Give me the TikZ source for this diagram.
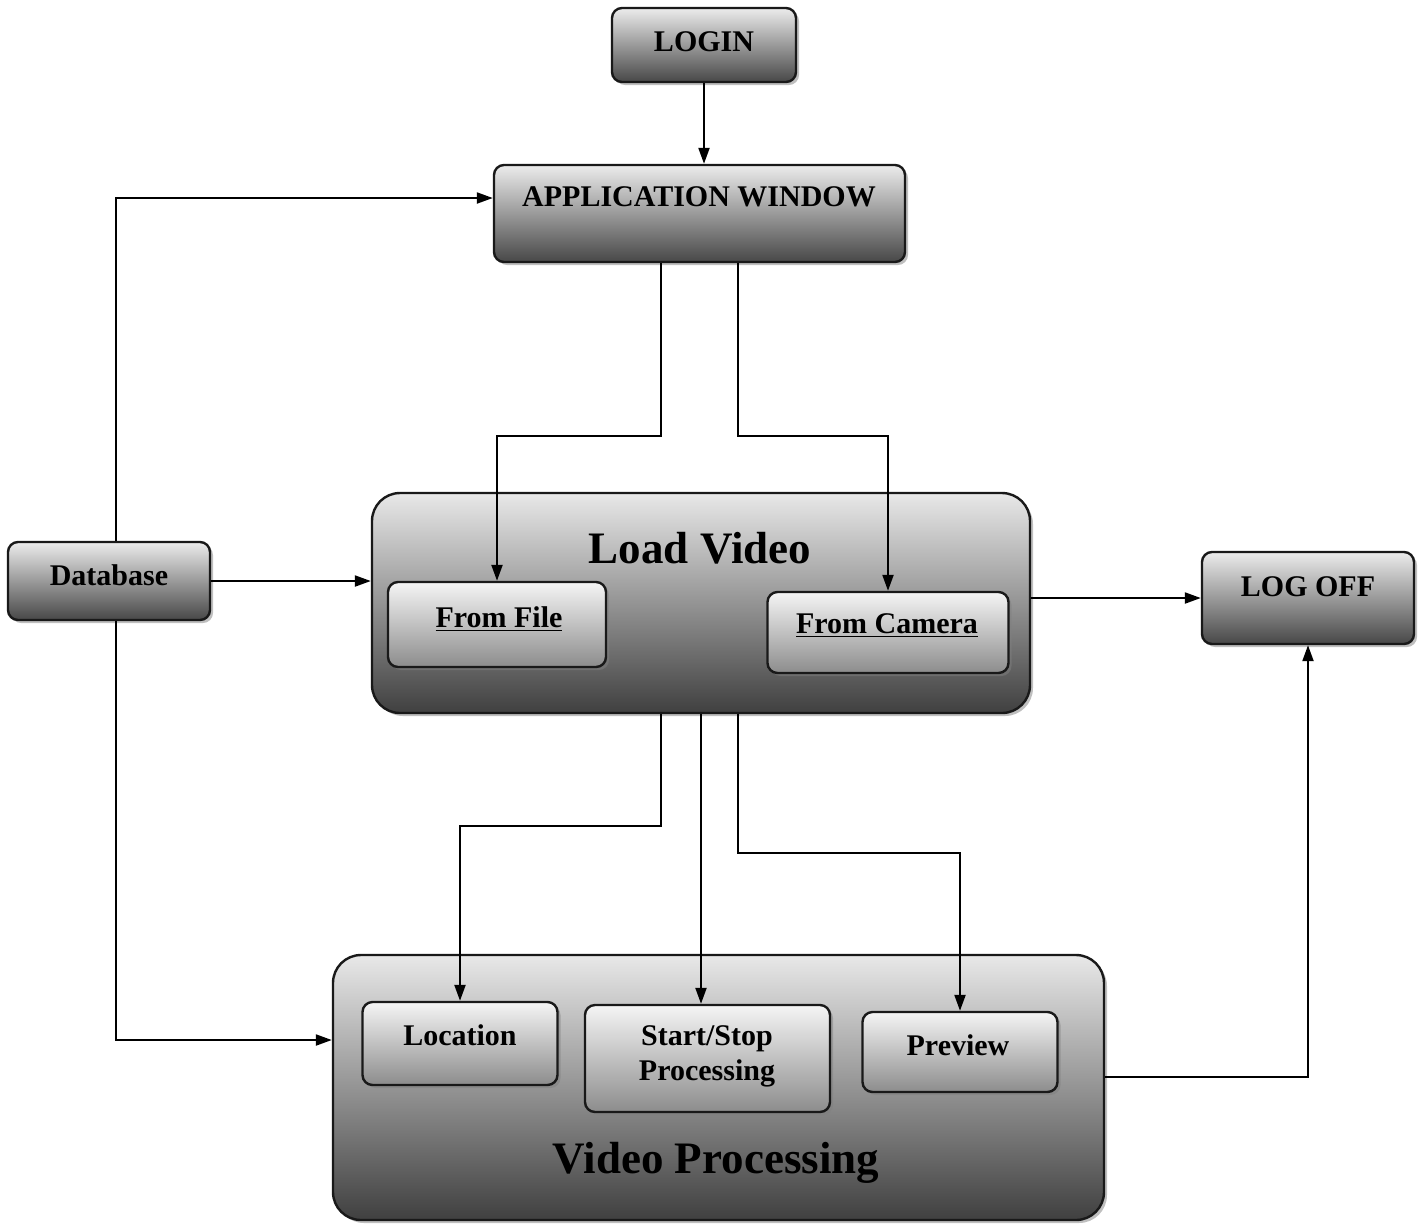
\documentclass[tikz,border=0pt]{standalone}
\usepackage{fontspec}
\setmainfont{Liberation Serif}
\usetikzlibrary{shadows,arrows.meta,calc}
\begin{document}
\begin{tikzpicture}[x=0.5pt,y=-0.5pt,
  box/.style={draw=black!90, line width=1.2pt, rounded corners=5pt, inner sep=0pt,
    top color=gray!15, middle color=gray!45, bottom color=black!72,
    drop shadow={shadow xshift=1.5pt,shadow yshift=-1.5pt,opacity=0.5}},
  inbox/.style={box, top color=gray!8, middle color=gray!30, bottom color=black!45},
  bigbox/.style={box, rounded corners=14pt, top color=gray!18, middle color=gray!55, bottom color=black!75},
  lbl/.style={font=\fontsize{15}{17.5}\selectfont\bfseries, inner sep=0pt, align=center},
  title/.style={font=\fontsize{22.5}{26}\selectfont\bfseries, inner sep=0pt},
  arr/.style={-{Triangle[length=8pt,width=5.5pt]}, line width=1.1pt}]
\useasboundingbox (0,0) rectangle (1420,1223);
\fill[white] (0,0) rectangle (1420,1223);

% containers
\node[bigbox, minimum width=329pt, minimum height=110pt] (lv) at (701,603) {};
\node[bigbox, minimum width=385.5pt, minimum height=132.5pt] (vp) at (718.5,1087.5) {};

% boxes
\node[box, minimum width=92pt, minimum height=37pt] (login) at (704,45) {};
\node[box, minimum width=205.5pt, minimum height=48.5pt] (app) at (699.5,213.5) {};
\node[box, minimum width=101pt, minimum height=39pt] (db) at (109,581) {};
\node[box, minimum width=106pt, minimum height=46pt] (lo) at (1308,598) {};
\node[inbox, minimum width=109pt, minimum height=42.5pt] (ff) at (497,624.5) {};
\node[inbox, minimum width=120.5pt, minimum height=40.5pt] (fc) at (888,632.5) {};
\node[inbox, minimum width=97.5pt, minimum height=41.5pt] (loc) at (460,1043.5) {};
\node[inbox, minimum width=122.5pt, minimum height=53.5pt] (ss) at (707.5,1058.5) {};
\node[inbox, minimum width=97.5pt, minimum height=40pt] (pv) at (960,1052) {};

% texts
\node[lbl] (tlogin) at (704,42) {LOGIN};
\node[lbl] (tapp) at (699,197) {APPLICATION WINDOW};
\node[lbl] (tdb) at (109,575) {Database};
\node[title] (tlv) at (700,548) {Load Video};
\node[lbl] (tff) at (499,619) {\underline{From File}};
\node[lbl] (tfc) at (887,626) {\underline{From Camera}};
\node[lbl] (tlo) at (1308,587) {LOG OFF};
\node[lbl] (tloc) at (460,1035) {Location};
\node[lbl] (tss) at (707,1056) {Start/Stop\\Processing};
\node[lbl] (tpv) at (958,1045) {Preview};
\node[title] (tvp) at (716,1163) {Video Processing};

% helper coordinates
\coordinate (xa) at (661,0);
\coordinate (xm) at (701,0);
\coordinate (xb) at (738,0);
\coordinate (xdb) at (116,0);
\coordinate (ya) at (0,198);
\coordinate (yv) at (0,1040);
\coordinate (yb) at (0,1077);

% connectors
\draw[arr] (login.south) -- (login.south |- app.north);
\draw[arr] (db.north -| xdb) |- (app.west |- ya);
\draw[arr] (db.east) -- (db.east -| lv.west);
\draw[arr] (db.south -| xdb) |- (vp.west |- yv);
\draw[arr] (app.south -| xa) -- ++(0,173) -| (ff.north);
\draw[arr] (app.south -| xb) -- ++(0,173) -| (fc.north);
\draw[arr] (lv.east |- lo.west) -- (lo.west);
\draw[arr] (lv.south -| xa) -- ++(0,112) -| (loc.north);
\draw[arr] (lv.south -| xm) -- (ss.north -| xm);
\draw[arr] (lv.south -| xb) -- ++(0,139) -| (pv.north);
\draw[arr] (vp.east |- yb) -| (lo.south);
\end{tikzpicture}
\end{document}
